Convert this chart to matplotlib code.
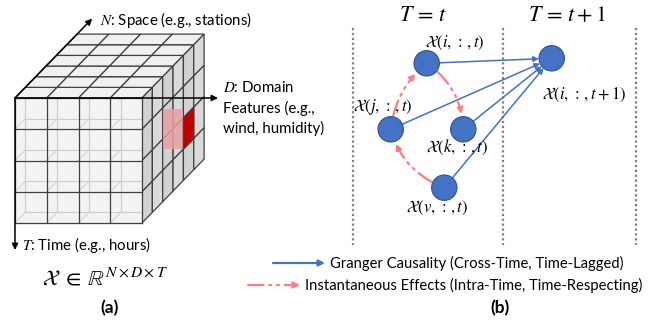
import matplotlib
matplotlib.use('Agg')
import matplotlib.pyplot as plt
from matplotlib.patches import Polygon, Circle, FancyArrowPatch, Rectangle

plt.rcParams['font.family'] = ['Lato', 'DejaVu Sans']
plt.rcParams['mathtext.fontset'] = 'stix'

# ── panel (a): the N x D x T cube ─────────────────────────────────────────────
N_DEPTH, D_COLS, T_ROWS = 6, 4, 4
FRONT_X, FRONT_Y = 15, 98
CELL_W, CELL_H = 31.75, 31.25
DEPTH_DX, DEPTH_DY = 10.35, -10.65
RED_ROW, RED_DEPTH = 2, 4

cube_texts = [
    (100, 20, r'$N$: Space (e.g., stations)'),
    (223, 88, r'$D$: Domain'),
    (223, 108, 'Features (e.g.,'),
    (223, 128, 'wind, humidity)'),
    (22, 245, r'$T$: Time (e.g., hours)'),
]
formula = r'$\mathcal{X}\;\in\;\mathbb{R}^{N\times D\times T}$'

# ── panel (b): causal graph ───────────────────────────────────────────────────
node_xy = {
    'i': (426.7, 63.3),
    'j': (390.7, 129.3),
    'k': (463.3, 129.3),
    'v': (444.3, 187.7),
    'i1': (551.7, 58.3),
}
node_labels = {
    'i': (455, 43, r'$\mathcal{X}(i,\,:\,,t)$'),
    'j': (383, 107, r'$\mathcal{X}(j,\,:\,,t)$'),
    'k': (457, 147, r'$\mathcal{X}(k,\,:\,,t)$'),
    'v': (437, 208, r'$\mathcal{X}(v,\,:\,,t)$'),
    'i1': (584, 95, r'$\mathcal{X}(i,\,:\,,t+1)$'),
}
granger_src = ['i', 'j', 'k', 'v']
inst_edges = [('j', 'i', -0.2), ('i', 'k', -0.25), ('v', 'j', -0.25)]
time_lines_x = [352.7, 502.7, 636]
time_titles = [(423, r'$T\,=\,t$'), (567, r'$T\,=\,t+1$')]

legend_items = [
    ('Granger Causality (Cross-Time, Time-Lagged)', 273, 263),
    ('Instantaneous Effects (Intra-Time, Time-Respecting)', 248, 285),
]

BLUE = '#4472C4'
PINK = '#FF7C80'
EDGE = '#404040'
NODE_R = 12.7
INST_LS = (0, (7, 2.5, 1, 2.5, 1, 2.5))


def pt(c, r, d):
    return (FRONT_X + c * CELL_W + d * DEPTH_DX, FRONT_Y + r * CELL_H + d * DEPTH_DY)


fig = plt.figure(figsize=(6.5, 3.2), dpi=100)
ax = fig.add_axes([0, 0, 1, 1])
ax.set_xlim(0, 650)
ax.set_ylim(320, 0)
ax.axis('off')

# top face
for c in range(D_COLS):
    for d in range(N_DEPTH):
        ax.add_patch(Polygon([pt(c, 0, d), pt(c + 1, 0, d), pt(c + 1, 0, d + 1), pt(c, 0, d + 1)],
                             fc='#f0f0f0', ec=EDGE, lw=0.9, zorder=2))
# right face
for r in range(T_ROWS):
    for d in range(N_DEPTH):
        fc = '#d2d2d2' if d % 2 == 0 else '#dadada'
        ax.add_patch(Polygon([pt(D_COLS, r, d), pt(D_COLS, r, d + 1),
                              pt(D_COLS, r + 1, d + 1), pt(D_COLS, r + 1, d)],
                             fc=fc, ec=EDGE, lw=0.9, zorder=2))
# front face with ghost edges of the next layer
front = Rectangle(pt(0, 0, 0), D_COLS * CELL_W, T_ROWS * CELL_H, fc='#f3f3f3', ec='none', zorder=2)
ax.add_patch(front)
for c in range(D_COLS + 1):
    a, b = pt(c, 0, 1), pt(c, T_ROWS, 1)
    ln, = ax.plot([a[0], b[0]], [a[1], b[1]], color='#cccccc', lw=0.8, zorder=3)
    ln.set_clip_path(front)
for r in range(T_ROWS + 1):
    a, b = pt(0, r, 1), pt(D_COLS, r, 1)
    ln, = ax.plot([a[0], b[0]], [a[1], b[1]], color='#cccccc', lw=0.8, zorder=3)
    ln.set_clip_path(front)
for c in range(D_COLS + 1):
    for r in range(T_ROWS + 1):
        a, b = pt(c, r, 0), pt(c, r, 1)
        ln, = ax.plot([a[0], b[0]], [a[1], b[1]], color='#d4d4d4', lw=0.8, zorder=3)
        ln.set_clip_path(front)
for c in range(D_COLS + 1):
    a, b = pt(c, 0, 0), pt(c, T_ROWS, 0)
    ax.plot([a[0], b[0]], [a[1], b[1]], color=EDGE, lw=0.9, zorder=4)
for r in range(T_ROWS + 1):
    a, b = pt(0, r, 0), pt(D_COLS, r, 0)
    ax.plot([a[0], b[0]], [a[1], b[1]], color=EDGE, lw=0.9, zorder=4)

# highlighted cell
x0, y0 = pt(3.35, 1.7, RED_DEPTH)
x1, y1 = pt(D_COLS, 3.0, RED_DEPTH)
ax.add_patch(Rectangle((x0, y0), x1 - x0, y1 - y0, fc='#e8a0a0', ec='none', alpha=0.85, zorder=3))
ax.add_patch(Polygon([pt(D_COLS, RED_ROW, RED_DEPTH), pt(D_COLS, RED_ROW, RED_DEPTH + 1),
                      pt(D_COLS, RED_ROW + 1, RED_DEPTH + 1), pt(D_COLS, RED_ROW + 1, RED_DEPTH)],
                     fc='#C00000', ec=EDGE, lw=0.9, zorder=4))

# axis arrows
origin = pt(0, 0, 0)
for end in [pt(0, 0, 7.45), (218, FRONT_Y), (FRONT_X, 250)]:
    ax.add_patch(FancyArrowPatch(origin, end, arrowstyle='-|>', mutation_scale=9,
                                 color='black', lw=1.1, shrinkA=0, shrinkB=0, zorder=5))
for x, y, s in cube_texts:
    ax.text(x, y, s, fontsize=10.8, va='center', ha='left')
ax.text(42, 278, formula, fontsize=16, ha='left', va='center')
ax.text(110, 308, '(a)', fontsize=12.5, fontweight='bold', ha='center', va='center')

# ── panel (b) ─────────────────────────────────────────────────────────────────
for x in time_lines_x:
    ax.plot([x, x], [28, 245], color='#808080', lw=1.6, ls=(0, (1, 1.2)), zorder=1)
for x, s in time_titles:
    ax.text(x, 15, s, fontsize=16, ha='center', va='center')

shrink = NODE_R * 0.72
for k in granger_src:
    ax.add_patch(FancyArrowPatch(node_xy[k], node_xy['i1'], arrowstyle='-|>', mutation_scale=8,
                                 color=BLUE, lw=1.1, shrinkA=shrink, shrinkB=shrink, zorder=3))
for a, b, rad in inst_edges:
    ax.add_patch(FancyArrowPatch(node_xy[a], node_xy[b], arrowstyle='-|>', mutation_scale=8,
                                 connectionstyle=f'arc3,rad={rad}', color=PINK, lw=1.6,
                                 ls=INST_LS, shrinkA=shrink + 1, shrinkB=shrink + 2, zorder=3))
for k, (x, y) in node_xy.items():
    ax.add_patch(Circle((x, y), NODE_R, fc=BLUE, ec='#2F528F', lw=0.8, zorder=4))
for k, (x, y, s) in node_labels.items():
    ax.text(x, y, s, fontsize=12, ha='center', va='center')

# legend
colors = [BLUE, PINK]
styles = ['-', INST_LS]
for (label, x, y), col, st in zip(legend_items, colors, styles):
    ax.add_patch(FancyArrowPatch((x, y), (x + 52, y), arrowstyle='-|>',
                                 mutation_scale=9, color=col, lw=1.6, ls=st, shrinkA=0, shrinkB=0))
    ax.text(x + 57, y, label, fontsize=10.6, ha='left', va='center')
ax.text(500, 308, '(b)', fontsize=12.5, fontweight='bold', ha='center', va='center')

fig.savefig('out.png', dpi=100)
